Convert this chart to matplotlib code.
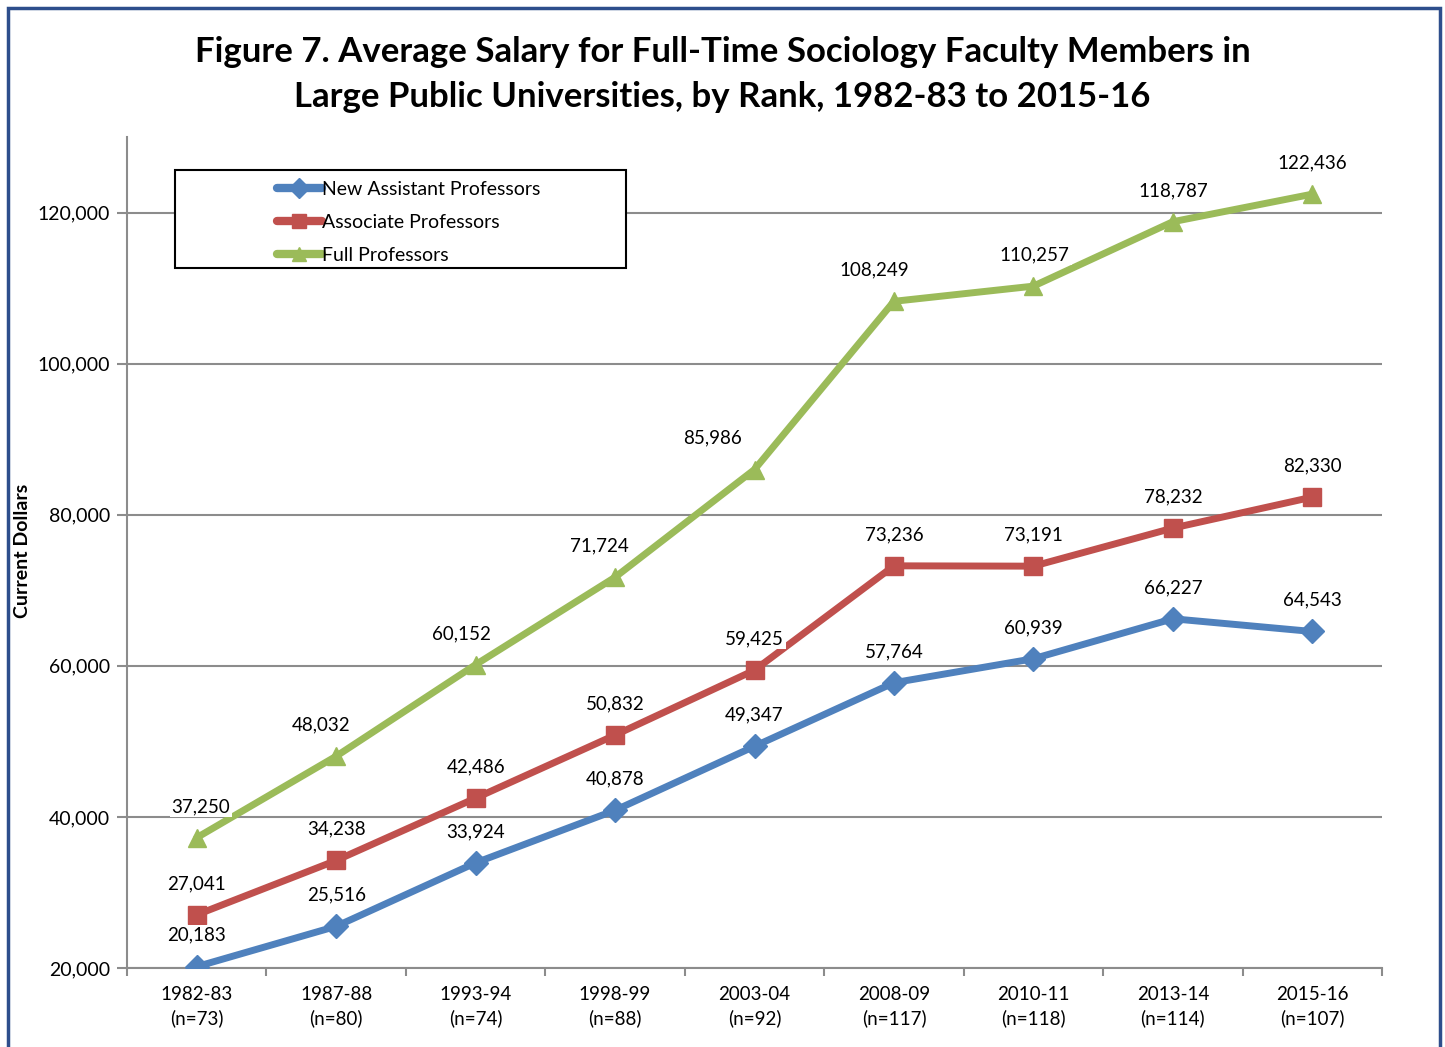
import numpy as np
import matplotlib.pyplot as plt
from matplotlib.patches import Rectangle
from matplotlib.lines import Line2D

# dados
anos = ["1982-83", "1987-88", "1993-94", "1998-99", "2003-04",
        "2008-09", "2010-11", "2013-14", "2015-16"]
n_obs = [73, 80, 74, 88, 92, 117, 118, 114, 107]
assistentes = [20183, 25516, 33924, 40878, 49347, 57764, 60939, 66227, 64543]
associados = [27041, 34238, 42486, 50832, 59425, 73236, 73191, 78232, 82330]
titulares = [37250, 48032, 60152, 71724, 85986, 108249, 110257, 118787, 122436]
nomes = ["New Assistant Professors", "Associate Professors", "Full Professors"]

cores = ["#4F81BD", "#C0504D", "#9BBB59"]
marcadores = ["D", "s", "^"]
# deslocamento horizontal dos rótulos (pontos)
dx = {
    "Full Professors": [3, -11, -10, -11, -30, -14, 1, 0, 0],
}

plt.rcParams['font.family'] = ['Lato', 'DejaVu Sans']

fig = plt.figure(figsize=(14.45, 10.47), dpi=100)
ax = fig.add_axes([127/1445, 1 - 968/1047, 1255/1445, 831/1047])

x = np.arange(len(anos))
series = [assistentes, associados, titulares]
for nome, vals, cor, mk in zip(nomes, series, cores, marcadores):
    ms = 12 if mk == "D" else 13
    ax.plot(x, vals, color=cor, lw=5, marker=mk, markersize=ms,
            markerfacecolor=cor, markeredgecolor=cor, zorder=3,
            solid_capstyle='round')
    desl = dx.get(nome, [0] * len(vals))
    for xi, v, d in zip(x, vals, desl):
        ax.annotate(f"{v:,}", (xi, v), xytext=(d, 22.5), textcoords='offset points',
                    ha='center', va='center', fontsize=13.5, zorder=4,
                    bbox=dict(boxstyle='square,pad=0.1', fc='white', ec='none'))

ax.set_xlim(-0.5, len(anos) - 0.5)
ax.set_ylim(20000, 130000)
ax.set_yticks(np.arange(20000, 120001, 20000))
ax.set_yticklabels([f"{v:,}" for v in range(20000, 120001, 20000)], fontsize=14)
ax.set_xticks(x)
ax.set_xticklabels([f"{a}\n(n={n})" for a, n in zip(anos, n_obs)], fontsize=13.5,
                   linespacing=1.42)
ax.set_xticks(np.arange(-0.5, len(anos), 1), minor=True)
ax.tick_params(axis='x', which='major', length=0, pad=13)
ax.tick_params(axis='x', which='minor', length=6, color='#8C8C8C', width=1.5)
ax.tick_params(axis='y', length=7, color='#8C8C8C', width=1.5, pad=5)
ax.yaxis.grid(True, color='#8C8C8C', lw=1.5)
ax.set_axisbelow(True)
for s in ['top', 'right']:
    ax.spines[s].set_visible(False)
for s in ['left', 'bottom']:
    ax.spines[s].set_color('#8C8C8C')
    ax.spines[s].set_linewidth(1.5)

fig.text(23/1445, 1 - 551/1047, "Current Dollars", rotation=90, fontsize=14,
         fontweight='bold', ha='center', va='center')

# legenda
ax.add_patch(Rectangle((48/1255, 1 - 131/831), 451/1255, 98/831,
                       transform=ax.transAxes, fc='white', ec='black', lw=1.5, zorder=5))
handles = [Line2D([], [], color=c, lw=6, marker=m, markersize=10,
                  solid_capstyle='round') for c, m in zip(cores, marcadores)]
ax.legend(handles, nomes, loc='upper left', bbox_to_anchor=(142/1255, 1 - 36/831),
          frameon=False, fontsize=14, handlelength=2.3, handletextpad=0.05,
          labelspacing=0.82, borderaxespad=0).set_zorder(6)

fig.text(0.5, 1 - 52/1047,
         "Figure 7. Average Salary for Full-Time Sociology Faculty Members in",
         ha='center', va='center', fontsize=25, fontweight='bold')
fig.text(0.5, 1 - 97/1047,
         "Large Public Universities, by Rank, 1982-83 to 2015-16",
         ha='center', va='center', fontsize=25, fontweight='bold')

fig.add_artist(Rectangle((8/1445, -0.05), 1432/1445, 1.05 - 8/1047,
                         transform=fig.transFigure, fill=False,
                         ec='#2E4E8C', lw=2.5))

fig.savefig("out.png", dpi=100)
